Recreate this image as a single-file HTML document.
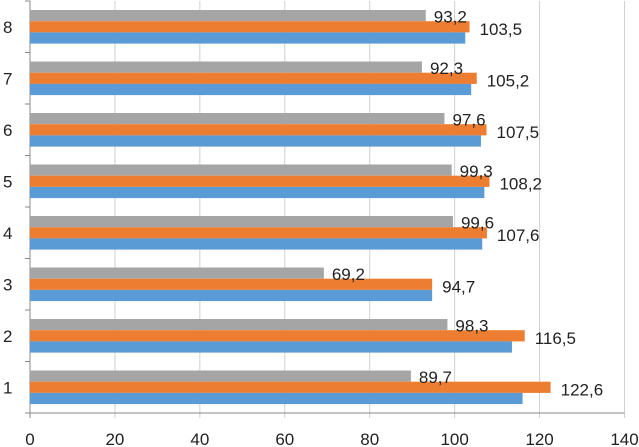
<!DOCTYPE html>
<html><head><meta charset="utf-8"><style>
body{margin:0;background:#fff}
svg{display:block;font-family:"Liberation Sans",sans-serif}
</style></head><body>
<svg id="chart" width="639" height="447" viewBox="0 0 639 447"></svg>
<script>
const categories=["1","2","3","4","5","6","7","8"];
const grayValues=[89.7,98.3,69.2,99.6,99.3,97.6,92.3,93.2];
const orangeValues=[122.6,116.5,94.7,107.6,108.2,107.5,105.2,103.5];
const blueValues=[116.0,113.5,94.7,106.5,107.0,106.2,103.9,102.5];
const grayLabels=["89,7","98,3","69,2","99,6","99,3","97,6","92,3","93,2"];
const orangeLabels=["122,6","116,5","94,7","107,6","108,2","107,5","105,2","103,5"];
const xTicks=[0,20,40,60,80,100,120,140];

const svg=document.getElementById('chart');
const NS='http://www.w3.org/2000/svg';
const X0=30,X1=624.5,MAX=140,TOP=1,BOT=413;
const band=(BOT-TOP)/categories.length;
const x=v=>X0+v/MAX*(X1-X0);
const bandTop=i=>BOT-(i+1)*band;
function mk(t,a){const e=document.createElementNS(NS,t);for(const k in a)e.setAttribute(k,a[k]);svg.appendChild(e);return e;}

xTicks.forEach(t=>{
  const g=mk('line',{x1:x(t),x2:x(t),y1:TOP,y2:BOT+5,stroke:t===0?'#888':'#d0d0d0','stroke-width':1});
  
  
  const l=mk('text',{x:x(t),y:445,'text-anchor':'middle','font-size':17,fill:'#222'});
  l.textContent=t;
  
  
});
const ax=mk('line',{x1:X0,x2:X1,y1:BOT,y2:BOT,stroke:'#888'});


for(let i=0;i<=categories.length;i++){
  const tk=mk('line',{x1:X0-5,x2:X0,y1:TOP+i*band,y2:TOP+i*band,stroke:'#888'});
  
  
}
const bh=11.2;
categories.forEach((c,i)=>{
  const t0=bandTop(i)+9;
  const gy=t0,oy=t0+bh,by=t0+2*bh;
  const cl=mk('text',{x:3,y:bandTop(i)+band/2+6,'font-size':17,fill:'#222'});
  cl.textContent=c;
  
  
  const g=mk('rect',{x:X0,y:gy,width:x(grayValues[i])-X0,height:bh,fill:'#a5a5a5'});
  
  
  const o=mk('rect',{x:X0,y:oy,width:x(orangeValues[i])-X0,height:bh,fill:'#ed7d31'});
  
  
  const b=mk('rect',{x:X0,y:by,width:x(blueValues[i])-X0,height:bh,fill:'#5b9bd5'});
  
  
  const gl=mk('text',{x:x(grayValues[i])+8,y:gy+bh/2+7,'font-size':17,fill:'#222'});
  gl.textContent=grayLabels[i];
  
  
  const ol=mk('text',{x:x(orangeValues[i])+10,y:oy+bh/2+8,'font-size':17,fill:'#222'});
  ol.textContent=orangeLabels[i];
  
  
});
</script>
</body></html>
